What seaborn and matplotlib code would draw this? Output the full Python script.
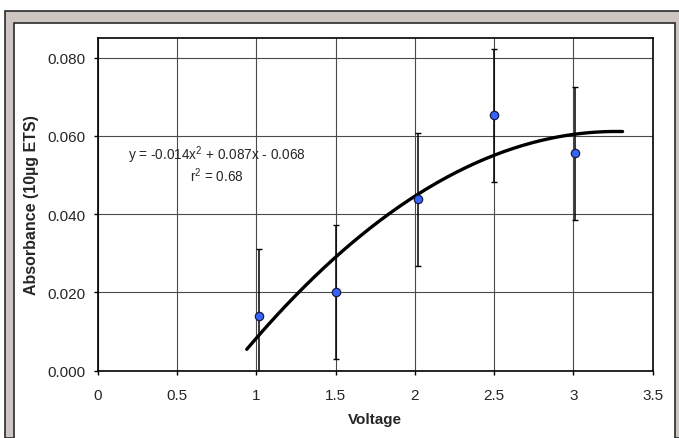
import numpy as np
import pandas as pd
import matplotlib
matplotlib.use("Agg")
import matplotlib.pyplot as plt
import seaborn as sns
from matplotlib.patches import Rectangle

# data
voltage = [1.02, 1.50, 2.02, 2.50, 3.01]
absorbance = [0.0140, 0.0201, 0.0438, 0.0653, 0.0556]
error = [0.0170, 0.0170, 0.0170, 0.0170, 0.0170]

x_ticks = [0, 0.5, 1, 1.5, 2, 2.5, 3, 3.5]
y_ticks = [0.000, 0.020, 0.040, 0.060, 0.080]
fit_range = [0.94, 3.31]

sns.set_style("white")
plt.rcParams['font.family'] = ['Liberation Sans', 'DejaVu Sans']
plt.rcParams['mathtext.fontset'] = 'custom'
plt.rcParams['mathtext.rm'] = 'Liberation Sans'
plt.rcParams['mathtext.it'] = 'Liberation Sans:italic'

fig = plt.figure(figsize=(6.79, 4.39), dpi=100)
W, H = 679, 439

# Excel-like chart frame
fig.patches.append(Rectangle((5 / W, 0), 1, 1 - 12 / H, transform=fig.transFigure,
                             facecolor="#cdc5c2", edgecolor="#2a2a2a", lw=1.2, zorder=-2))
fig.patches.append(Rectangle((14 / W, -0.01), (675 - 14) / W, 1 - 24 / H + 0.01,
                             transform=fig.transFigure, facecolor="white",
                             edgecolor="#2a2a2a", lw=1.2, zorder=-1))

ax = fig.add_axes([97.7 / W, (439 - 371.7) / H, (652.7 - 97.7) / W, (371.7 - 39) / H])
ax.set_zorder(1)
ax.set_facecolor("white")

# quadratic trend line
coef = np.polyfit(voltage, absorbance, 2)
xs = np.linspace(fit_range[0], fit_range[1], 200)
trend = pd.DataFrame({"Voltage": xs, "Absorbance": np.polyval(coef, xs)})
sns.lineplot(data=trend, x="Voltage", y="Absorbance", color="black", lw=2.4, ax=ax, zorder=3)

ax.errorbar(voltage, absorbance, yerr=error, fmt="none", ecolor="black",
            elinewidth=1.1, capsize=2.2, capthick=1.0, zorder=4)
pts = pd.DataFrame({"Voltage": voltage, "Absorbance": absorbance})
sns.scatterplot(data=pts, x="Voltage", y="Absorbance", color="#3366ff", edgecolor="#1a1a40",
                linewidth=0.9, s=36, ax=ax, zorder=5)

ax.text(0.752, 0.0553, "y = -0.014x$^2$ + 0.087x - 0.068", ha="center", va="center", fontsize=9.8)
ax.text(0.752, 0.0500, "r$^2$ = 0.68", ha="center", va="center", fontsize=9.8)

ax.set_xlim(0, 3.5)
ax.set_ylim(0, 0.085)
ax.set_xticks(x_ticks)
ax.set_xticklabels([f"{t:g}" for t in x_ticks])
ax.set_yticks(y_ticks)
ax.set_yticklabels([f"{t:.3f}" for t in y_ticks])
ax.grid(True, color="#4a4a4a", lw=0.8)
for s in ax.spines.values():
    s.set_color("black")
    s.set_linewidth(1.2)
ax.tick_params(axis="both", direction="out", length=3, width=1, color="black",
               labelsize=11, bottom=True, left=True)
ax.tick_params(axis="x", pad=9.5)
ax.tick_params(axis="y", pad=6)
ax.set_xlabel("Voltage", fontsize=11, fontweight="bold", labelpad=7.5)
ax.set_ylabel("Absorbance (10µg ETS)", fontsize=11.5, fontweight="bold", labelpad=5.5)

fig.savefig("out.png", dpi=100)
